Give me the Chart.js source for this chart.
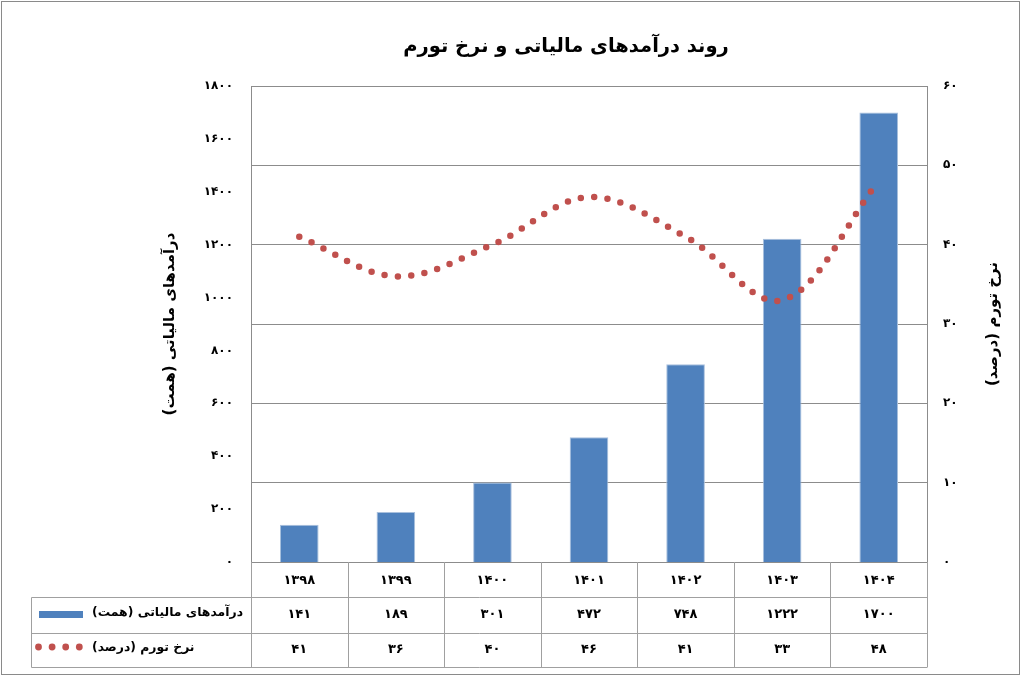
<!DOCTYPE html>
<html><head><meta charset="utf-8">
<script src="https://cdn.jsdelivr.net/npm/chart.js@4.4.1/dist/chart.umd.min.js"></script>
<style>html,body{margin:0;padding:0;background:#fff;} canvas{display:block;}</style>
</head><body>
<canvas id="c" width="1024" height="677" dir="rtl"></canvas>
<script>
const chartTitle = 'روند درآمدهای مالیاتی و نرخ تورم';
const years = ['۱۳۹۸','۱۳۹۹','۱۴۰۰','۱۴۰۱','۱۴۰۲','۱۴۰۳','۱۴۰۴'];
const taxRevenue = [141, 189, 301, 472, 748, 1222, 1700];
const inflation = [41, 36, 40, 46, 41, 33, 48];
const revenueLabel = 'درآمدهای مالیاتی (همت)';
const inflationLabel = 'نرخ تورم (درصد)';
const revenueAxis = [0, 1800, 200];
const inflationAxis = [0, 60, 10];

const FONT = "'DejaVu Sans', sans-serif";
const GRID = '#8c8c8c';
const TABLE = '#a0a0a0';
function fa(n){ return String(n).replace(/\d/g, d => '۰۱۲۳۴۵۶۷۸۹'[+d]); }

const tablePlugin = {
  id: 'dataTable',
  afterDraw(chart){
    const {ctx, chartArea: a, scales: {x}} = chart;
    const n = years.length;
    const w = x.width / n;
    const top = Math.round(a.bottom);
    const rows = [top, 597, 633, 667];
    const legendLeft = 31.5;
    ctx.save();
    ctx.direction = 'rtl';
    ctx.strokeStyle = TABLE; ctx.lineWidth = 1;
    const line = (x1,y1,x2,y2) => { ctx.beginPath(); ctx.moveTo(x1,y1); ctx.lineTo(x2,y2); ctx.stroke(); };
    for (let r = 1; r < rows.length; r++) line(legendLeft, rows[r]+0.5, a.right, rows[r]+0.5);
    for (let i = 0; i <= n; i++) {
      const xx = Math.round(x.left + i * w) + 0.5;
      line(xx, top, xx, rows[3]+0.5);
    }
    line(legendLeft, rows[1]+0.5, legendLeft, rows[3]+0.5);
    // values
    ctx.fillStyle = '#000';
    ctx.font = 'bold 13px ' + FONT;
    ctx.textAlign = 'center'; ctx.textBaseline = 'middle';
    const r1 = (rows[1]+rows[2])/2, r2 = (rows[2]+rows[3])/2;
    for (let i = 0; i < n; i++) {
      const cx = x.getPixelForValue(i);
      ctx.fillText(fa(taxRevenue[i]), cx, r1);
      ctx.fillText(fa(inflation[i]), cx, r2);
    }
    // legend keys
    ctx.fillStyle = '#4F81BD';
    ctx.fillRect(39, r1 - 4, 44, 7);
    ctx.fillStyle = '#C0504D';
    for (let k = 0; k < 4; k++) { ctx.beginPath(); ctx.arc(38.5 + k*13.6, r2 - 3, 3.4, 0, Math.PI*2); ctx.fill(); }
    ctx.fillStyle = '#000';
    ctx.font = 'bold 12.4px ' + FONT;
    ctx.textAlign = 'left';
    ctx.fillText(revenueLabel, 92, r1 - 2);
    ctx.fillText(inflationLabel, 92, r2 - 2);
    // right axis title (rotated counter-clockwise as in the reference)
    ctx.save();
    ctx.translate(993, (a.top + a.bottom) / 2);
    ctx.rotate(-Math.PI / 2);
    ctx.font = 'bold 15px ' + FONT;
    ctx.textAlign = 'center';
    ctx.fillText(inflationLabel, 0, 0);
    ctx.restore();
    // title
    ctx.font = 'bold 19.5px ' + FONT;
    ctx.textAlign = 'center';
    ctx.fillText(chartTitle, 566, 47);
    // frame
    ctx.strokeStyle = '#8a8a8a';
    ctx.strokeRect(1.5, 1.5, 1018, 673);
    ctx.restore();
  }
};

new Chart(document.getElementById('c'), {
  data: {
    labels: years,
    datasets: [
      { type: 'line', label: inflationLabel, data: inflation, yAxisID: 'y1',
        borderColor: '#C0504D', borderWidth: 6.5, borderDash: [0, 13.4], borderCapStyle: 'round',
        pointRadius: 0, tension: 0.35, fill: false, order: 0 },
      { type: 'bar', label: revenueLabel, data: taxRevenue, yAxisID: 'y',
        backgroundColor: '#4F81BD', borderColor: '#A9C0DD', borderWidth: 1,
        categoryPercentage: 1, barPercentage: 0.4, order: 1 }
    ]
  },
  options: {
    responsive: false, animation: false, devicePixelRatio: 1,
    layout: { padding: { left: 161, right: 22, top: 86, bottom: 10 } },
    plugins: { legend: { display: false }, tooltip: { enabled: false }, title: { display: false } },
    scales: {
      x: {
        grid: { display: false, drawTicks: false },
        border: { display: true, color: GRID },
        ticks: { font: { family: FONT, weight: 'bold', size: 13 }, color: '#000', padding: 11, maxRotation: 0 },
        afterFit(s){ s.height = 105; }
      },
      y: {
        position: 'left', min: revenueAxis[0], max: revenueAxis[1],
        ticks: { stepSize: revenueAxis[2], callback: v => fa(v), font: { family: FONT, weight: 'bold', size: 12 }, color: '#000', padding: 18 },
        grid: { display: false, drawTicks: false },
        border: { display: true, color: GRID },
        title: { display: true, text: revenueLabel, font: { family: FONT, weight: 'bold', size: 15 }, color: '#000', padding: 0 },
        afterFit(s){ s.width = 90; }
      },
      y1: {
        position: 'right', min: inflationAxis[0], max: inflationAxis[1],
        ticks: { stepSize: inflationAxis[2], callback: v => fa(v), font: { family: FONT, weight: 'bold', size: 12 }, color: '#000', padding: 16 },
        grid: { color: GRID, drawTicks: false },
        border: { display: true, color: GRID },
        title: { display: false },
        afterFit(s){ s.width = 75; }
      }
    }
  },
  plugins: [tablePlugin]
});
</script>
</body></html>
